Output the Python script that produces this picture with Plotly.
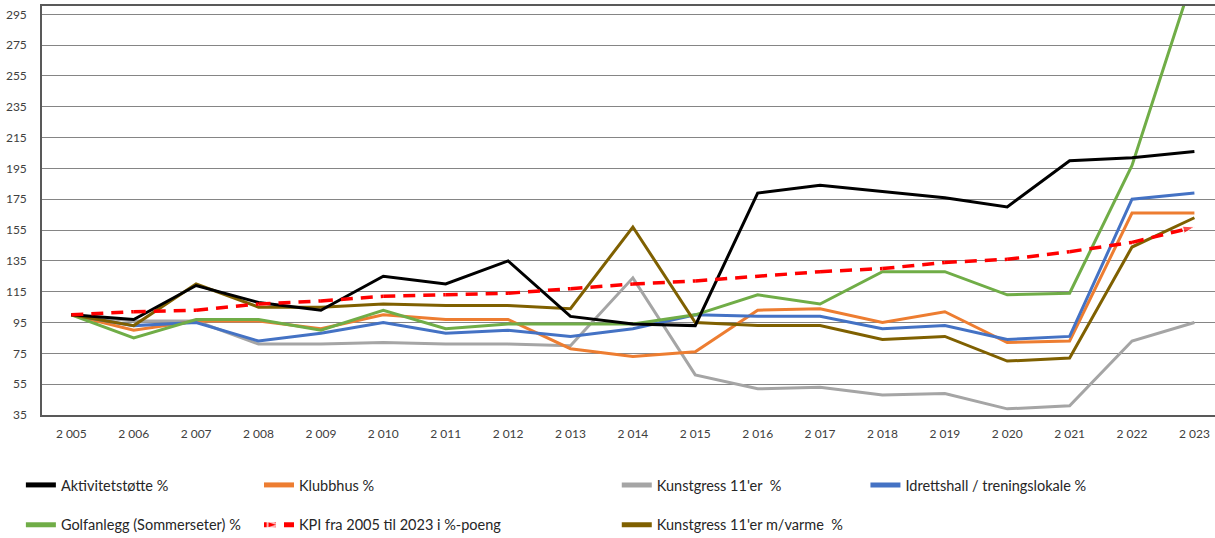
import plotly.graph_objects as go

# Data (index 2005 = 100)
years = ["2 005", "2 006", "2 007", "2 008", "2 009", "2 010", "2 011", "2 012", "2 013", "2 014",
         "2 015", "2 016", "2 017", "2 018", "2 019", "2 020", "2 021", "2 022", "2 023"]

aktivitet = [100, 97, 119, 108, 103, 125, 120, 135, 99, 94, 93, 179, 184, 180, 176, 170, 200, 202, 206]
klubbhus = [100, 90, 96, 96, 91, 100, 97, 97, 78, 73, 76, 103, 104, 95, 102, 82, 83, 166, 166]
kunstgress = [100, 96, 96, 81, 81, 82, 81, 81, 80, 124, 61, 52, 53, 48, 49, 39, 41, 83, 95]
idrettshall = [100, 93, 95, 83, 88, 95, 88, 90, 86, 91, 100, 99, 99, 91, 93, 84, 86, 175, 179]
golf = [100, 85, 97, 97, 90, 103, 91, 94, 94, 94, 100, 113, 107, 128, 128, 113, 114, 197, 322]
kpi = [100, 102, 103, 107, 109, 112, 113, 114, 117, 120, 122, 125, 128, 130, 134, 136, 141, 147, 157]
kunstgress_varme = [100, 93, 120, 105, 105, 107, 106, 106, 104, 157, 95, 93, 93, 84, 86, 70, 72, 144, 163]

FONT = "Lato"
TEXT = "#262626"

# (name, values, colour, legend column)
series = [
    ("Aktivitetstøtte %", aktivitet, "#000000", "legend"),
    ("Golfanlegg (Sommerseter) %", golf, "#70AD47", "legend"),
    ("Klubbhus %", klubbhus, "#ED7D31", "legend2"),
    ("Kunstgress 11'er  %", kunstgress, "#A5A5A5", "legend3"),
    ("Kunstgress 11'er m/varme  %", kunstgress_varme, "#7F6000", "legend3"),
    ("Idrettshall / treningslokale %", idrettshall, "#4472C4", "legend4"),
]

fig = go.Figure()

# draw order roughly like the original (black on top)
draw_order = [3, 2, 5, 1, 4, 0]
for i in draw_order:
    name, vals, col, leg = series[i]
    fig.add_trace(go.Scatter(
        x=years, y=vals, name=name, mode="lines",
        line=dict(color=col, width=3),
        legend=leg, legendgroup=name, legendrank=i,
    ))

fig.add_trace(go.Scatter(
    x=years, y=kpi, name="KPI fra 2005 til 2023 i %-poeng", mode="lines+markers",
    line=dict(color="#FF0000", width=3.5, dash="12px,8px"),
    marker=dict(symbol="arrow", angleref="previous", color="#FF0000",
                size=[0] * (len(kpi) - 1) + [12]),
    legend="legend2", legendgroup="kpi", legendrank=10,
))

legend_common = dict(
    orientation="v", yanchor="top", y=-0.132, xanchor="left",
    font=dict(family=FONT, size=14.5, color=TEXT),
    bgcolor="rgba(0,0,0,0)", tracegroupgap=18, itemsizing="constant",
)

fig.update_layout(
    width=1215, height=538,
    margin=dict(l=42, r=0, t=6, b=123, autoexpand=False),
    plot_bgcolor="white", paper_bgcolor="white",
    font=dict(family=FONT, color=TEXT),
    showlegend=True,
    legend=dict(x=-0.018, **legend_common),
    legend2=dict(x=0.185, **legend_common),
    legend3=dict(x=0.490, **legend_common),
    legend4=dict(x=0.702, **legend_common),
    hovermode="x unified",
)

fig.update_xaxes(
    type="category", range=[-0.47, 18.33],
    showgrid=False, showline=True, linecolor="#595959", linewidth=1.5, mirror=True,
    ticks="", ticklabelstandoff=7,
    tickfont=dict(family=FONT, size=12, color="#404040"),
)
fig.update_yaxes(
    range=[35, 300.4], tick0=35, dtick=20,
    showgrid=True, gridcolor="#858585", gridwidth=1,
    showline=True, linecolor="#595959", linewidth=1.5, mirror=True,
    zeroline=False, ticks="", ticklabelstandoff=11,
    tickfont=dict(family=FONT, size=12, color="#404040"),
)

# page body has a default 8px margin; drop it so the figure fills the window
fig.write_html("out.html", config={"displayModeBar": False},
               post_script="document.body.style.margin='0';")
